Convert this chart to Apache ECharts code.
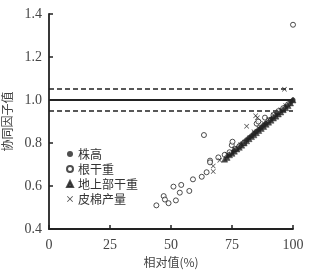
<!DOCTYPE html>
<html><head><meta charset="utf-8">
<script src="https://cdn.jsdelivr.net/npm/echarts@6/dist/echarts.min.js"></script>
<style>html,body{margin:0;padding:0;background:#fff}#c{width:321px;height:279px}</style>
</head><body><div id="c"></div>
<script>
const seriesNames = ['株高', '根干重', '地上部干重', '皮棉产量'];
const xTicks = [0, 25, 50, 75, 100];
const yTicks = [0.4, 0.6, 0.8, 1.0, 1.2, 1.4];
const refLines = [0.95, 1.0, 1.05];

const plantHeight = [[73,0.74],[74,0.748],[75,0.757],[76,0.768],[77,0.776],[78,0.786],[79,0.797],[80,0.806],[81,0.815],[82,0.826],[83,0.834],[84,0.845],[85,0.855],[86,0.864],[87,0.874],[88,0.884],[89,0.893],[90,0.903],[91,0.912],[92,0.922],[93,0.932],[94,0.941],[95,0.951],[96,0.96],[97,0.97],[98,0.98],[99,0.99],[100,1.0]];
const rootDry = [[44,0.51],[47,0.553],[47.5,0.537],[49,0.52],[52,0.533],[51,0.597],[54.2,0.605],[53.6,0.569],[57.5,0.577],[59,0.631],[62.6,0.643],[64.6,0.664],[63.5,0.837],[66,0.718],[66,0.71],[69.4,0.733],[72,0.745],[74,0.757],[74.9,0.79],[75.2,0.806],[76.5,0.772],[78,0.785],[80,0.8],[85.1,0.89],[85.8,0.9],[88.5,0.918],[90,0.905],[92,0.93],[94,0.948],[96,0.962],[98,0.98],[100,1.35]];
const shootDry = [[72,0.725],[73,0.733],[74,0.745],[75,0.752],[76,0.762],[77,0.772],[78,0.78],[79,0.79],[80,0.8],[81,0.81],[82,0.82],[83,0.83],[84,0.838],[85,0.848],[86,0.858],[87,0.868],[88,0.877],[89,0.887],[90,0.897],[91,0.906],[92,0.916],[93,0.925],[94,0.935],[95,0.944],[96,0.955],[97,0.964],[98,0.974],[99,0.986],[100,1.0]];
const lintYield = [[67.3,0.693],[67.3,0.667],[70,0.72],[73,0.748],[76,0.772],[78.5,0.792],[81,0.878],[84.7,0.927],[85.4,0.918],[84,0.852],[86,0.87],[88,0.892],[90,0.91],[92,0.93],[93,0.935],[95,0.955],[97,0.975],[96.5,1.05]];

const dark = '#222';
const crossPath = 'path://M0,1L1,0L5,4L9,0L10,1L6,5L10,9L9,10L5,6L1,10L0,9L4,5Z';

const chart = echarts.init(document.getElementById('c'));
chart.setOption({
  animation: false,
  grid: {left: 49, right: 28, top: 14, bottom: 50, outerBoundsMode: 'none', containLabel: false},
  legend: {
    orient: 'vertical', left: 61, top: 142, itemGap: 1,
    itemWidth: 6, itemHeight: 6,
    textStyle: {fontFamily: 'Noto Sans CJK SC', fontSize: 12, color: '#333', lineHeight: 14},
    data: seriesNames
  },
  xAxis: {
    type: 'value', min: xTicks[0], max: xTicks[xTicks.length-1], interval: 25,
    name: '相对值(%)', nameLocation: 'middle', nameGap: 27,
    nameTextStyle: {fontFamily: 'Noto Sans CJK SC', fontSize: 12, color: '#444'},
    axisLine: {show: true, lineStyle: {color: dark, width: 1.8}},
    axisTick: {show: true, inside: true, length: 4, lineStyle: {color: dark, width: 1.5}},
    axisLabel: {fontFamily: 'Liberation Serif', fontSize: 14, color: '#444', margin: 9},
    splitLine: {show: false}
  },
  yAxis: {
    type: 'value', min: yTicks[0], max: yTicks[yTicks.length-1], interval: 0.2,
    name: '协同因子值', nameLocation: 'middle', nameGap: 35,
    nameTextStyle: {fontFamily: 'Noto Sans CJK SC', fontSize: 12, color: '#444'},
    axisLine: {show: true, lineStyle: {color: dark, width: 1.8}},
    axisTick: {show: true, inside: true, length: 4, lineStyle: {color: dark, width: 1.5}},
    axisLabel: {fontFamily: 'Liberation Serif', fontSize: 14, color: '#444', margin: 7,
      formatter: v => v.toFixed(1)},
    splitLine: {show: false}
  },
  series: [
    {name: seriesNames[0], type: 'scatter', data: plantHeight, symbol: 'circle', symbolSize: 5,
     itemStyle: {color: dark},
     markLine: {silent: true, symbol: 'none', label: {show: false},
       data: refLines.map(v => ({yAxis: v, lineStyle: v === 1.0 ? {type: 'solid', width: 2.2, color: dark} : {type: [5, 3], width: 1.6, color: dark}}))}},
    {name: seriesNames[1], type: 'scatter', data: rootDry, symbol: 'circle', symbolSize: 5,
     itemStyle: {color: '#fff', borderColor: dark, borderWidth: 1}},
    {name: seriesNames[2], type: 'scatter', data: shootDry, symbol: 'triangle', symbolSize: 6,
     itemStyle: {color: dark, borderColor: dark, borderWidth: 0.5}},
    {name: seriesNames[3], type: 'scatter', data: lintYield, symbol: crossPath, symbolSize: 5,
     itemStyle: {color: dark}}
  ]
});
</script></body></html>
